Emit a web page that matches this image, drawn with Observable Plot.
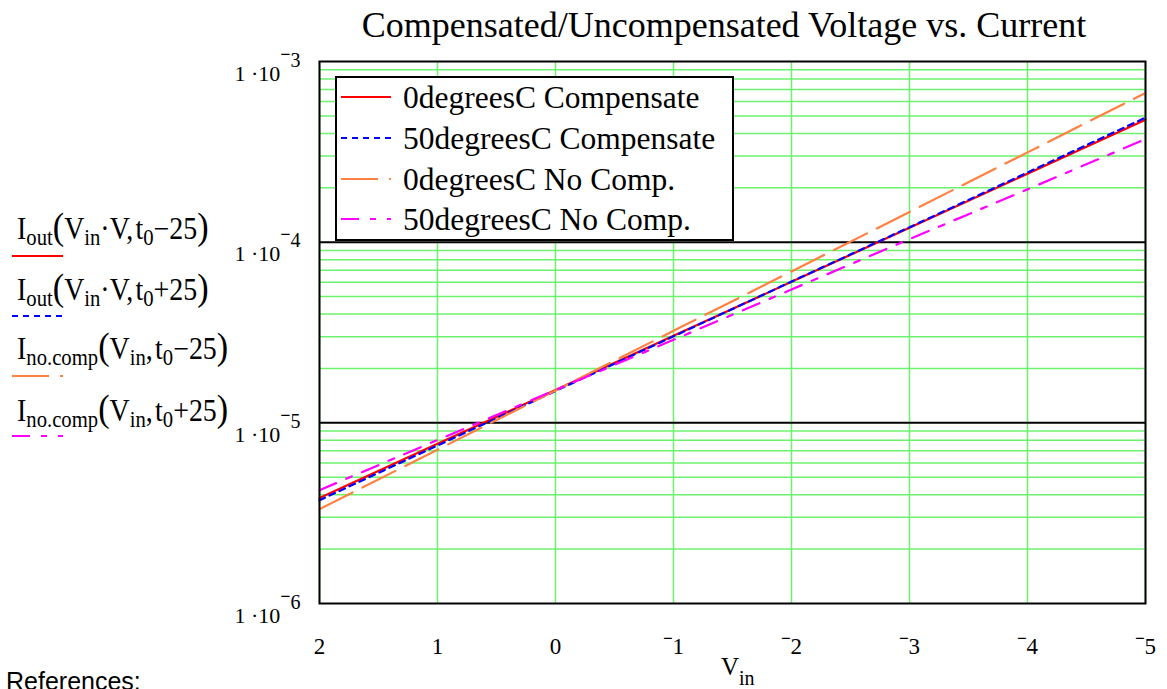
<!DOCTYPE html>
<html><head><meta charset="utf-8">
<script src="https://cdn.jsdelivr.net/npm/d3@7"></script>
<script src="https://cdn.jsdelivr.net/npm/@observablehq/plot@0.6"></script>
<style>
body{margin:0;background:#fff;overflow:hidden}
svg{font-family:"Liberation Serif","Times New Roman",serif}
</style>
</head><body><div id="chart"></div>
<script>
// ---- data ----
const vin = [2, 1, 0, -1, -2, -3, -4, -5];
const comp0C    = [3.84e-6, 7.65e-6, 1.52e-5, 3.03e-5, 6.03e-5, 1.20e-4, 2.39e-4, 4.76e-4];
const comp50C   = [3.73e-6, 7.49e-6, 1.50e-5, 3.01e-5, 6.05e-5, 1.21e-4, 2.43e-4, 4.89e-4];
const nocomp0C  = [3.33e-6, 7.10e-6, 1.51e-5, 3.23e-5, 6.89e-5, 1.47e-4, 3.14e-4, 6.70e-4];
const nocomp50C = [4.24e-6, 8.03e-6, 1.52e-5, 2.88e-5, 5.47e-5, 1.04e-4, 1.96e-4, 3.72e-4];
const seriesNames = ["0degreesC Compensate", "50degreesC Compensate", "0degreesC No Comp.", "50degreesC No Comp."];
const seriesColors = ["#ff0000", "#0000ff", "#ff8040", "#ff00ff"];
const seriesDash = [null, "6,5", "37,11", "18,11,6,11"];
const leftLegendParts = [
  [["I"],["out","sub"],["(","big"],["V"],["in","sub"],["·V,\u200At"],["0","sub"],["−25"],[")","big"]],
  [["I"],["out","sub"],["(","big"],["V"],["in","sub"],["·V,\u200At"],["0","sub"],["+25"],[")","big"]],
  [["I"],["no.comp","sub"],["(","big"],["V"],["in","sub"],[",\u200At"],["0","sub"],["−25"],[")","big"]],
  [["I"],["no.comp","sub"],["(","big"],["V"],["in","sub"],[",\u200At"],["0","sub"],["+25"],[")","big"]]
];
const xTicks = [2, 1, 0, -1, -2, -3, -4, -5];
const yDecades = [1e-6, 1e-5, 1e-4, 1e-3];
const yMajorGrid = [1e-5, 1e-4];
const yMinorGrid = [1e-6, 1e-5, 1e-4].flatMap(d => [2,3,4,5,6,7,8,9].map(m => m * d));
const titleText = "Compensated/Uncompensated Voltage vs. Current";

const green = "#6cf26c";
const W = 1167, H = 689;
const series = [comp0C, comp50C, nocomp0C, nocomp50C];
const rows = series.flatMap((arr, i) => arr.map((v, j) => ({series: seriesNames[i], x: vin[j], y: v})));

const plot = Plot.plot({
  width: W, height: H,
  marginLeft: 319, marginRight: 22, marginTop: 61, marginBottom: 86,
  x: {domain: [2, -5]},
  y: {type: "log", domain: [1e-6, 1e-3]},
  style: {fontFamily: "Liberation Serif", background: "white", color: "black"},
  marks: [
    Plot.ruleY(yMinorGrid, {stroke: green, strokeWidth: 1.5}),
    Plot.ruleX(xTicks, {stroke: green, strokeWidth: 1.5}),
    Plot.ruleY(yMajorGrid, {stroke: "black", strokeWidth: 2}),
    ...seriesNames.map((name, i) => Plot.line(rows.filter(r => r.series === name), {
      x: "x", y: "y", stroke: seriesColors[i], strokeWidth: 2.2,
      strokeDasharray: seriesDash[i] || undefined
    })),
    Plot.frame({stroke: "black", strokeWidth: 2}),
    Plot.axisX({ticks: xTicks, tickSize: 0, tickPadding: 0, fontSize: 23, label: null,
      tickFormat: d => d < 0 ? "−" + (-d) : String(d)}),
    Plot.axisY({ticks: yDecades, tickSize: 0, tickPadding: 19, fontSize: 22, label: null,
      tickFormat: d => "1 ·10|" + (-Math.round(Math.log10(d)))})
  ]
});
document.getElementById("chart").appendChild(plot);
const svg = d3.select(plot);

// x tick labels: raised minus
svg.selectAll('g[aria-label="x-axis tick label"] text').each(function() {
  const s = this.textContent;
  const t = d3.select(this).attr("dy", null).text(null);
  if (s.startsWith("−")) {
    t.append("tspan").attr("font-size", 17).attr("font-weight", "bold").attr("dy", 24).text("−");
    t.append("tspan").attr("dy", 10).text(s.slice(1));
  } else {
    t.append("tspan").attr("dy", 34).text(s);
  }
});
// y tick labels: 1·10 with superscript exponent
svg.selectAll('g[aria-label="y-axis tick label"] text').each(function() {
  const [base, e] = this.textContent.split("|");
  const t = d3.select(this).attr("dy", null).text(null);
  t.append("tspan").attr("dy", 12).text(base);
  t.append("tspan").attr("font-size", 18).attr("font-weight", "bold").attr("dy", -21).text("−");
  t.append("tspan").attr("font-size", 20).attr("dy", 7).text(e);
});

// title
svg.append("text").attr("x", 724).attr("y", 37).attr("text-anchor", "middle")
  .attr("font-size", 36).text(titleText);

// x label V_in
const xl = svg.append("text").attr("x", 721).attr("y", 675).attr("font-size", 25).attr("text-anchor", "start");
xl.append("tspan").text("V");
xl.append("tspan").attr("font-size", 20).attr("dy", 10).text("in");

// References
svg.append("text").attr("x", 6).attr("y", 690).attr("font-size", 25).attr("text-anchor", "start")
  .attr("font-family", "Liberation Sans, Arial, sans-serif").text("References:");

// in-plot legend
const lg = svg.append("g");
lg.append("rect").attr("x", 336).attr("y", 77).attr("width", 397).attr("height", 163)
  .attr("fill", "white").attr("stroke", "black").attr("stroke-width", 2);
const rowY = [97, 138, 179, 219];
seriesNames.forEach((name, i) => {
  lg.append("line").attr("x1", 341).attr("x2", 391).attr("y1", rowY[i]).attr("y2", rowY[i])
    .attr("stroke", seriesColors[i]).attr("stroke-width", 2.2)
    .attr("stroke-dasharray", seriesDash[i]);
  lg.append("text").attr("x", 403).attr("y", rowY[i] + 11).attr("font-size", 31.5)
    .attr("text-anchor", "start").text(name);
});

// left legend (trace expressions)
const leftBase = [239, 300, 359, 421];
const leftLine = [256, 316, 376, 436];
leftLegendParts.forEach((parts, i) => {
  const t = svg.append("text").attr("x", 0).attr("y", 0).attr("font-size", 31)
    .attr("transform", `translate(17,${leftBase[i]}) scale(0.9,1)`)
    .attr("text-anchor", "start");
  let lowered = 0;
  parts.forEach(([s, kind]) => {
    const target = kind === "sub" ? 6 : 0;
    const ts = t.append("tspan").attr("dy", target - lowered).text(s);
    lowered = target;
    if (kind === "sub") ts.attr("font-size", 23);
    if (kind === "big") ts.attr("font-size", 38);
  });
  svg.append("line").attr("x1", 12).attr("x2", 63).attr("y1", leftLine[i]).attr("y2", leftLine[i])
    .attr("stroke", seriesColors[i]).attr("stroke-width", 2.2)
    .attr("stroke-dasharray", seriesDash[i]);
});
</script>
</body></html>
